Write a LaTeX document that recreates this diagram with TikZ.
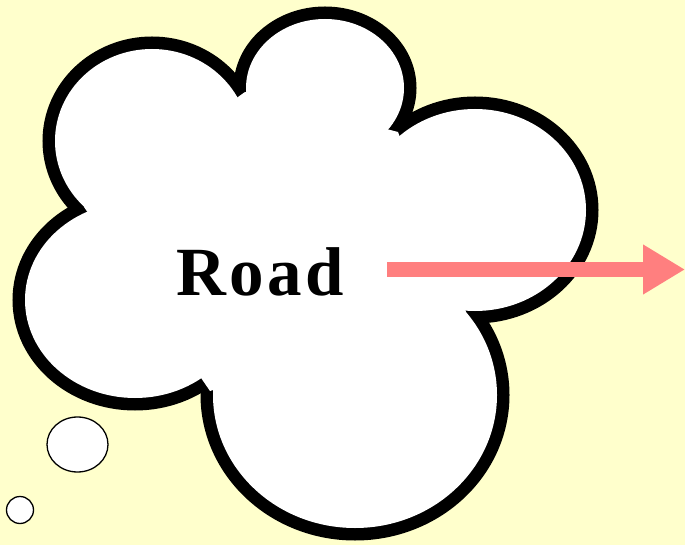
\documentclass[tikz,border=0pt]{standalone}
\usepackage{fontspec}
\setmainfont{Liberation Serif}
\usetikzlibrary{arrows.meta,shapes.geometric}
\definecolor{bgyellow}{HTML}{FFFFCC}
\definecolor{arrowpink}{HTML}{FF7F7F}
\begin{document}
\begin{tikzpicture}[x=1pt,y=-1pt,
  lobe/.style={line width=25pt,draw=black},
  lobefill/.style={fill=white,draw=none},
  bubble/.style={draw=black,fill=white,line width=1.3pt},
  bigarrow/.style={draw=arrowpink,line width=15pt,-{Triangle[length=42pt,width=47pt]}}]
\fill[bgyellow] (0,0) rectangle (685,545);
\useasboundingbox (0,0) rectangle (685,545);
% cloud outline
\foreach \c/\rx/\ry in {{(152,141)}/97/92,{(325,88)}/79/69,{(475,210)}/111/101,{(355,395)}/142/133,{(135,300)}/110/98}{
  \draw[lobe] \c ellipse [x radius=\rx, y radius=\ry];
}
\foreach \c/\rx/\ry in {{(152,141)}/97/92,{(325,88)}/79/69,{(475,210)}/111/101,{(355,395)}/142/133,{(135,300)}/110/98}{
  \fill[lobefill] \c ellipse [x radius=\rx, y radius=\ry];
}
\fill[lobefill] (245,92) -- (398,132) -- (466,312) -- (210,391) -- (84,207) -- cycle;
% thought bubbles
\node[bubble,ellipse,minimum width=61pt,minimum height=55pt,inner sep=0pt] (b1) at (77.5,444.5) {};
\node[bubble,circle,minimum size=27pt,inner sep=0pt] (b2) at (20,510) {};
% text
\node[anchor=base,inner sep=0pt,font={\fontsize{69}{69}\selectfont\bfseries\addfontfeatures{LetterSpace=5}}] (road) at (260,295) {Road};
% arrow
\coordinate (as) at (387,269.5);
\coordinate (ae) at (685,269.5);
\draw[bigarrow] (as) -- (ae);
\end{tikzpicture}
\end{document}
